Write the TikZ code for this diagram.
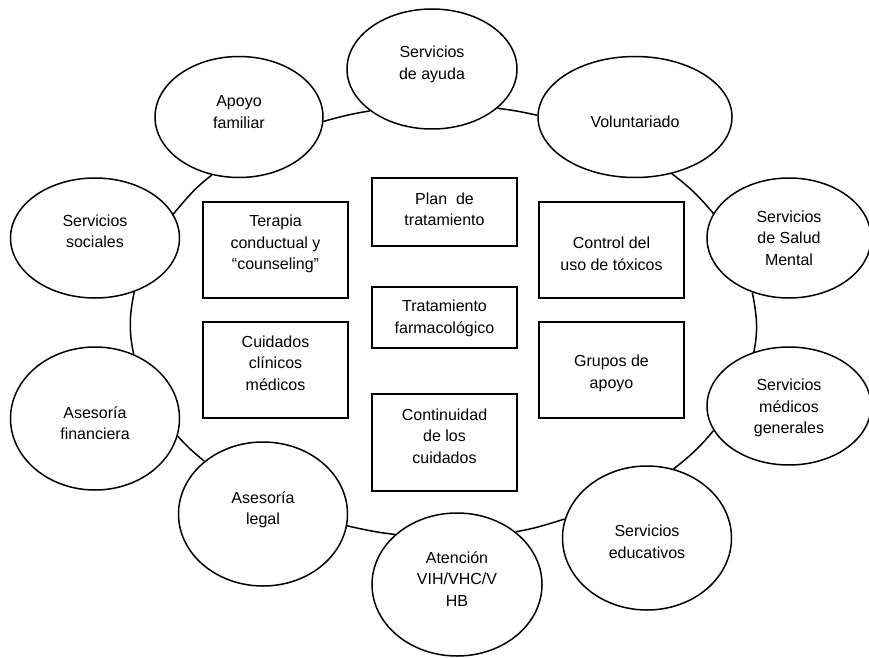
\documentclass[tikz,border=0pt]{standalone}
\usepackage{fontspec}
\setmainfont{Liberation Sans}
\usetikzlibrary{shapes.geometric}
\begin{document}
\begin{tikzpicture}[x=1pt,y=1pt,
  txt/.style={font=\fontsize{16}{21.5}\selectfont, align=center, inner sep=0pt},
  oval/.style={ellipse, draw, line width=1.5pt, fill=white, inner sep=0pt},
  box/.style={rectangle, draw, line width=2.2pt, inner sep=0pt, minimum width=145pt},
  conn/.style={line width=1.5pt}
]
\path[use as bounding box, fill=white] (0,0) rectangle (869,657);

% ellipses
\node[oval, minimum width=170pt, minimum height=120pt, label={[txt,yshift=4.5pt]center:Servicios\\de ayuda}] (ayuda) at (432,588) {};
\node[oval, minimum width=194pt, minimum height=121pt, label={[txt,yshift=-5pt]center:Voluntariado}] (volunt) at (635,540) {};
\node[oval, minimum width=164pt, minimum height=120pt, label={[txt,yshift=0pt]center:Servicios\\de Salud\\Mental}] (salud) at (789,419) {};
\node[oval, minimum width=164pt, minimum height=118pt, label={[txt,yshift=-2pt]center:Servicios\\médicos\\generales}] (medicos) at (789,251) {};
\node[oval, minimum width=169pt, minimum height=144pt, label={[txt,yshift=-4pt]center:Servicios\\educativos}] (educ) at (647,119) {};
\node[oval, minimum width=170pt, minimum height=143pt, label={[txt,yshift=5.5pt]center:Atención\\VIH/VHC/V\\HB}] (atencion) at (457,72.5) {};
\node[oval, minimum width=169pt, minimum height=144pt, label={[txt,yshift=4pt]center:Asesoría\\legal}] (legal) at (263,143) {};
\node[oval, minimum width=169pt, minimum height=143pt, label={[txt,yshift=-4.5pt]center:Asesoría\\financiera}] (fin) at (95,238.5) {};
\node[oval, minimum width=169pt, minimum height=120pt, label={[txt,yshift=6.5pt]center:Servicios\\sociales}] (soc) at (95,419) {};
\node[oval, minimum width=168pt, minimum height=121pt, label={[txt,yshift=5pt]center:Apoyo\\familiar}] (apoyo) at (239,540) {};

% boxes
\node[box, minimum height=96pt, label={[txt,yshift=6pt]center:Terapia\\conductual y\\“counseling”}] (terapia) at (275.5,407) {};
\node[box, minimum height=68pt, label={[txt,yshift=2.5pt]center:Plan~ de\\tratamiento}] (plan) at (444.5,445) {};
\node[box, minimum height=96pt, label={[txt,yshift=-4pt]center:Control del\\uso de tóxicos}] (control) at (611.5,407) {};
\node[box, minimum height=61pt, label={[txt,yshift=-1pt]center:Tratamiento\\farmacológico}] (trat) at (444.5,339.5) {};
\node[box, minimum height=96pt, label={[txt,yshift=7pt]center:Cuidados\\clínicos\\médicos}] (cuidados) at (275.5,287) {};
\node[box, minimum height=96pt, label={[txt,yshift=-3.5pt]center:Grupos de\\apoyo}] (grupos) at (611.5,287) {};
\node[box, minimum height=97pt, label={[txt,yshift=6.5pt]center:Continuidad\\de los\\cuidados}] (cont) at (444.5,214.5) {};

% connectors along the outer ring
\draw[conn] (apoyo.-3.4) to[out=16,in=189.4] (ayuda.214.1);
\draw[conn] (ayuda.-31.4) to[out=-7,in=167.2] (volunt.179.4);
\draw[conn] (volunt.-57) to[out=-37,in=129.9] (salud.162);
\draw[conn] (salud.236.1) to[out=-79,in=78.7] (medicos.123.9);
\draw[conn] (medicos.198.2) to[out=230,in=37.4] (educ.69.6);
\draw[conn] (educ.167.5) to[out=196.8,in=9.4] (atencion.42.4);
\draw[conn] (atencion.141.6) to[out=173.7,in=-12.6] (legal.-8.8);
\draw[conn] (legal.138.1) to[out=140.8,in=-48.2] (fin.-12.2);
\draw[conn] (fin.59) to[out=101.8,in=-101.4] (soc.-54.2);
\draw[conn] (soc.17.6) to[out=49.9,in=216.9] (apoyo.245.9);
\end{tikzpicture}
\end{document}
